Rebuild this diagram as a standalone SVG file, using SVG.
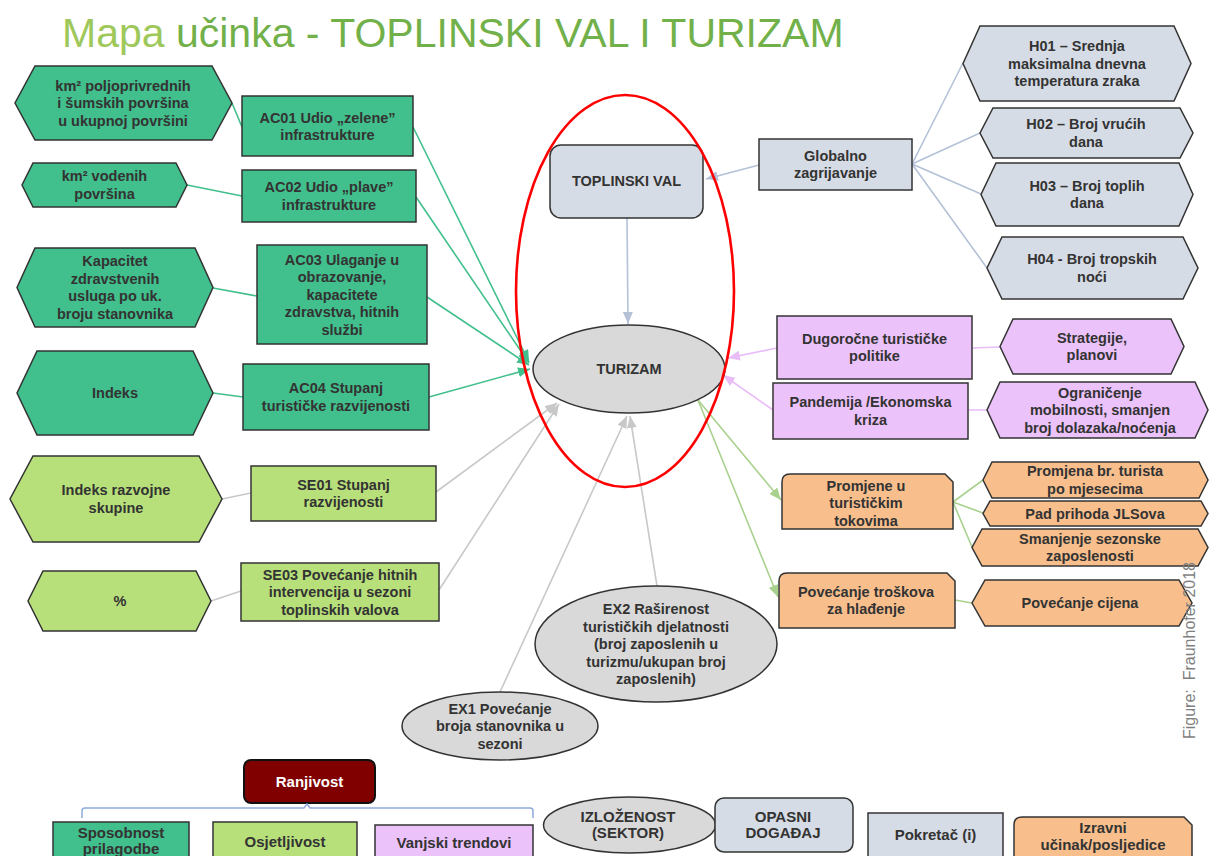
<svg xmlns="http://www.w3.org/2000/svg" width="1209" height="856" viewBox="0 0 1209 856">
<style>
.t{font-family:"Liberation Sans",Arial,sans-serif;font-weight:bold;font-size:14.5px;fill:#333;text-anchor:middle}
.lg-t{font-family:"Liberation Sans",Arial,sans-serif;font-weight:bold;font-size:15px;fill:#333;text-anchor:middle}
.n{stroke:#333;stroke-width:1.5}
.teal{fill:#41BF8C}.lgr{fill:#B8E07A}.gb{fill:#D6DCE5}.vi{fill:#EBC2FA}.or{fill:#F8BF8D}.gr{fill:#D9D9D9}
.c{fill:none;stroke-width:1.6}
.cT{stroke:#41BF8C}.cG{stroke:#C8C8C8}.cB{stroke:#B4C1D6}.cP{stroke:#E8BDF8}.cL{stroke:#A9D18E}
</style>
<defs>
<marker id="aT" viewBox="0 0 12 10" refX="12" refY="5" markerWidth="12" markerHeight="10" markerUnits="userSpaceOnUse" orient="auto"><path d="M0,0 L12,5 L0,10 z" fill="#41BF8C"/></marker>
<marker id="aG" viewBox="0 0 12 10" refX="12" refY="5" markerWidth="12" markerHeight="10" markerUnits="userSpaceOnUse" orient="auto"><path d="M0,0 L12,5 L0,10 z" fill="#C8C8C8"/></marker>
<marker id="aB" viewBox="0 0 12 10" refX="12" refY="5" markerWidth="12" markerHeight="10" markerUnits="userSpaceOnUse" orient="auto"><path d="M0,0 L12,5 L0,10 z" fill="#B4C1D6"/></marker>
<marker id="aP" viewBox="0 0 12 10" refX="12" refY="5" markerWidth="12" markerHeight="10" markerUnits="userSpaceOnUse" orient="auto"><path d="M0,0 L12,5 L0,10 z" fill="#E8BDF8"/></marker>
<marker id="aL" viewBox="0 0 12 10" refX="12" refY="5" markerWidth="12" markerHeight="10" markerUnits="userSpaceOnUse" orient="auto"><path d="M0,0 L12,5 L0,10 z" fill="#A9D18E"/></marker>
</defs>
<rect width="1209" height="856" fill="#fff"/>
<text x="62" y="47" font-family="'Liberation Sans',Arial,sans-serif" font-size="41" fill="#72B04A"><tspan fill="#9EC85A">Mapa</tspan> učinka - TOPLINSKI VAL I TURIZAM</text>

<g id="connectors">
<path class="c cT" d="M413,127 L529,362" marker-end="url(#aT)"/>
<path class="c cT" d="M416,197 L529,363" marker-end="url(#aT)"/>
<path class="c cT" d="M427,297 L529,365" marker-end="url(#aT)"/>
<path class="c cT" d="M429,397 L530,369" marker-end="url(#aT)"/>
<path class="c cT" d="M232,103 L242,127"/>
<path class="c cT" d="M187,185 L242,196"/>
<path class="c cT" d="M213,288 L257,296"/>
<path class="c cT" d="M213,393 L243,397"/>
<path class="c cG" d="M222,499 L251,493"/>
<path class="c cG" d="M211,601 L241,591"/>
<path class="c cG" d="M436,492 L557,403" marker-end="url(#aG)"/>
<path class="c cG" d="M439,590 L559,404" marker-end="url(#aG)"/>
<path class="c cG" d="M500,692 L627,416" marker-end="url(#aG)"/>
<path class="c cG" d="M657,586 L630,416" marker-end="url(#aG)"/>
<path class="c cB" d="M759,165 L706,179" marker-end="url(#aB)"/>
<path class="c cB" d="M627,218 L628,324" marker-end="url(#aB)"/>
<path class="c cB" d="M912,164 L963,63"/>
<path class="c cB" d="M912,164 L980,133"/>
<path class="c cB" d="M912,164 L981,194"/>
<path class="c cB" d="M912,164 L987,268"/>
<path class="c cP" d="M777,348 L728,358" marker-end="url(#aP)"/>
<path class="c cP" d="M773,410 L723,375" marker-end="url(#aP)"/>
<path class="c cP" d="M972,348 L1000,347"/>
<path class="c cP" d="M968,410 L987,410"/>
<path class="c cL" d="M698,400 L781,500" marker-end="url(#aL)"/>
<path class="c cL" d="M698,400 L778,597" marker-end="url(#aL)"/>
<path class="c cL" d="M953,502 L983,480"/>
<path class="c cL" d="M953,502 L983,513"/>
<path class="c cL" d="M953,502 L972,547"/>
<path class="c cL" d="M955,600 L972,603"/>
</g>

<g id="hex-km2-polj"><polygon class="n teal" points="35,66 212,66 232,103 212,140 35,140 15,103"/><text class="t"><tspan x="123" y="90.5">km² poljoprivrednih</tspan><tspan x="123" y="108">i šumskih površina</tspan><tspan x="123" y="125.5">u ukupnoj površini</tspan></text></g>
<g id="ac01"><rect class="n teal" x="242" y="96" width="171" height="60"/><text class="t"><tspan x="327.5" y="122.5">AC01 Udio „zelene”</tspan><tspan x="327.5" y="140">infrastrukture</tspan></text></g>
<g id="hex-km2-vod"><polygon class="n teal" points="33,163 176,163 187,185 176,207 33,207 22,185"/><text class="t"><tspan x="104.5" y="181">km² vodenih</tspan><tspan x="104.5" y="198.5">površina</tspan></text></g>
<g id="ac02"><rect class="n teal" x="242" y="170" width="174" height="52"/><text class="t"><tspan x="329" y="192">AC02 Udio „plave”</tspan><tspan x="329" y="209.5">infrastrukture</tspan></text></g>
<g id="hex-kapacitet"><polygon class="n teal" points="35,248 195,248 213,287.5 195,327 35,327 17,287.5"/><text class="t"><tspan x="115" y="266">Kapacitet</tspan><tspan x="115" y="283.5">zdravstvenih</tspan><tspan x="115" y="301">usluga po uk.</tspan><tspan x="115" y="318.5">broju stanovnika</tspan></text></g>
<g id="ac03"><rect class="n teal" x="257" y="245" width="170" height="99"/><text class="t"><tspan x="342" y="264.5">AC03 Ulaganje u</tspan><tspan x="342" y="282">obrazovanje,</tspan><tspan x="342" y="299.5">kapacitete</tspan><tspan x="342" y="317">zdravstva, hitnih</tspan><tspan x="342" y="334.5">službi</tspan></text></g>
<g id="hex-indeks"><polygon class="n teal" points="37,351 193,351 213,393 193,435 37,435 17,393"/><text class="t" x="115" y="398">Indeks</text></g>
<g id="ac04"><rect class="n teal" x="243" y="364" width="186" height="66"/><text class="t"><tspan x="336" y="393">AC04 Stupanj</tspan><tspan x="336" y="410.5">turističke razvijenosti</tspan></text></g>
<g id="hex-indeks-razv"><polygon class="n lgr" points="33,456 199,456 222,499 199,542 33,542 10,499"/><text class="t"><tspan x="116" y="495">Indeks razvojne</tspan><tspan x="116" y="512.5">skupine</tspan></text></g>
<g id="se01"><rect class="n lgr" x="251" y="466" width="185" height="55"/><text class="t"><tspan x="343.5" y="489.5">SE01 Stupanj</tspan><tspan x="343.5" y="507">razvijenosti</tspan></text></g>
<g id="hex-pct"><polygon class="n lgr" points="43,571 196,571 211,601 196,631 43,631 28,601"/><text class="t" x="120" y="606">%</text></g>
<g id="se03"><rect class="n lgr" x="241" y="563" width="198" height="58"/><text class="t"><tspan x="340" y="579.5">SE03 Povećanje hitnih</tspan><tspan x="340" y="597">intervencija u sezoni</tspan><tspan x="340" y="614.5">toplinskih valova</tspan></text></g>

<g id="toplinski-val"><rect class="n gb" x="550" y="145" width="153" height="73" rx="11"/><text class="t" x="626.5" y="186" font-size="13">TOPLINSKI  VAL</text></g>
<g id="turizam"><ellipse class="n gr" cx="629" cy="369" rx="96" ry="44" stroke-width="1.2"/><text class="t" x="629" y="374" font-size="13.5">TURIZAM</text></g>
<g id="globalno"><rect class="n gb" x="759" y="139" width="153" height="51"/><text class="t"><tspan x="835.5" y="160.5">Globalno</tspan><tspan x="835.5" y="178">zagrijavanje</tspan></text></g>
<g id="h01"><polygon class="n gb" points="980,26 1174,26 1191,63.5 1174,101 980,101 963,63.5"/><text class="t"><tspan x="1077" y="51">H01 – Srednja</tspan><tspan x="1077" y="68.5">maksimalna dnevna</tspan><tspan x="1077" y="86">temperatura zraka</tspan></text></g>
<g id="h02"><polygon class="n gb" points="993,108 1180,108 1193,133 1180,158 993,158 980,133"/><text class="t"><tspan x="1086" y="129">H02 –  Broj vrućih</tspan><tspan x="1086" y="146.5">dana</tspan></text></g>
<g id="h03"><polygon class="n gb" points="996,163 1179,163 1193,194.5 1179,226 996,226 981,194.5"/><text class="t"><tspan x="1087" y="190.5">H03 – Broj toplih</tspan><tspan x="1087" y="208">dana</tspan></text></g>
<g id="h04"><polygon class="n gb" points="1002,237 1183,237 1198,268 1183,299 1002,299 987,268"/><text class="t"><tspan x="1092" y="264">H04 - Broj tropskih</tspan><tspan x="1092" y="281.5">noći</tspan></text></g>

<g id="dugorocne"><rect class="n vi" x="777" y="316" width="195" height="63"/><text class="t"><tspan x="874.5" y="343.5">Dugoročne turističke</tspan><tspan x="874.5" y="361">politike</tspan></text></g>
<g id="pandemija"><rect class="n vi" x="773" y="383" width="195" height="56"/><text class="t"><tspan x="870.5" y="407">Pandemija /Ekonomska</tspan><tspan x="870.5" y="424.5">kriza</tspan></text></g>
<g id="strategije"><polygon class="n vi" points="1013,319 1171,319 1184,346.5 1171,374 1013,374 1000,346.5"/><text class="t"><tspan x="1092" y="342.5">Strategije,</tspan><tspan x="1092" y="360">planovi</tspan></text></g>
<g id="ogranicenje"><polygon class="n vi" points="1000,382 1195,382 1208,410 1195,438 1000,438 987,410"/><text class="t"><tspan x="1100" y="397.5">Ograničenje</tspan><tspan x="1100" y="415">mobilnosti, smanjen</tspan><tspan x="1100" y="432.5">broj dolazaka/noćenja</tspan></text></g>

<g id="promjene"><path class="n or" d="M782,529 V482 Q782,474 790,474 H945 L953,482 V529 Z"/><text class="t"><tspan x="866" y="490.5">Promjene u</tspan><tspan x="866" y="508">turističkim</tspan><tspan x="866" y="525.5">tokovima</tspan></text></g>
<g id="povecanje-troskova"><path class="n or" d="M779,628 V581 Q779,573 787,573 H947 L955,581 V628 Z"/><text class="t"><tspan x="866" y="596.5">Povećanje troškova</tspan><tspan x="866" y="614">za hlađenje</tspan></text></g>
<g id="promjena-br"><polygon class="n or" points="992,462 1199,462 1208,480 1199,498 992,498 983,480"/><text class="t"><tspan x="1095" y="476">Promjena br. turista</tspan><tspan x="1095" y="493.5">po mjesecima</tspan></text></g>
<g id="pad-prihoda"><polygon class="n or" points="990,501 1201,501 1208,513.5 1201,526 990,526 983,513.5"/><text class="t" x="1095" y="518.5">Pad prihoda  JLSova</text></g>
<g id="smanjenje"><polygon class="n or" points="982,529 1198,529 1208,547.5 1198,566 982,566 972,547.5"/><text class="t"><tspan x="1090" y="543.5">Smanjenje sezonske</tspan><tspan x="1090" y="561">zaposlenosti</tspan></text></g>
<g id="povecanje-cijena"><polygon class="n or" points="985,580 1179,580 1192,603 1179,626 985,626 972,603"/><text class="t" x="1080" y="608">Povećanje cijena</text></g>

<g id="ex2"><ellipse class="n gr" cx="656" cy="644" rx="121" ry="58" stroke-width="1.2"/><text class="t"><tspan x="656" y="614">EX2 Raširenost</tspan><tspan x="656" y="631.5">turističkih djelatnosti</tspan><tspan x="656" y="649">(broj zaposlenih u</tspan><tspan x="656" y="666.5">turizmu/ukupan broj</tspan><tspan x="656" y="684">zaposlenih)</tspan></text></g>
<g id="ex1"><ellipse class="n gr" cx="500" cy="726" rx="98" ry="34" stroke-width="1.2"/><text class="t"><tspan x="500" y="713.5">EX1 Povećanje</tspan><tspan x="500" y="731">broja stanovnika u</tspan><tspan x="500" y="748.5">sezoni</tspan></text></g>

<ellipse cx="625" cy="291" rx="109" ry="196" fill="none" stroke="#FF0000" stroke-width="2.6"/>

<text transform="translate(1195,739) rotate(-90)" font-family="'Liberation Sans',Arial,sans-serif" font-size="16" fill="#7F7F7F">Figure:&#160; Fraunhofer 2018</text>

<g id="legend">
<g id="ranjivost"><rect x="244" y="760" width="131" height="43" rx="7" fill="#800000" stroke="#111" stroke-width="2"/><text class="lg-t" x="309.5" y="787" style="fill:#fff">Ranjivost</text></g>
<path d="M82,818 V811 Q82,808 85,808 H304 L307,804 L310,808 H530 Q533,808 533,811 V818" fill="none" stroke="#8FAADC" stroke-width="1.5"/>
<g id="sposobnost"><rect class="n teal" x="53" y="822" width="136" height="50"/><text class="lg-t"><tspan x="121" y="838">Sposobnost</tspan><tspan x="121" y="854">prilagodbe</tspan></text></g>
<g id="osjetljivost"><rect class="n lgr" x="213" y="822" width="144" height="50"/><text class="lg-t" x="285" y="847">Osjetljivost</text></g>
<g id="vanjski"><rect class="n vi" x="375" y="825" width="158" height="50"/><text class="lg-t" x="454" y="848">Vanjski trendovi</text></g>
<g id="izlozenost"><ellipse class="n gr" cx="629.5" cy="825" rx="86" ry="28" stroke-width="1.2"/><text class="lg-t"><tspan x="628" y="822">IZLOŽENOST</tspan><tspan x="628" y="838">(SEKTOR)</tspan></text></g>
<g id="opasni"><rect class="n gb" x="715" y="798" width="138" height="54" rx="9"/><text class="lg-t"><tspan x="783" y="822">OPASNI</tspan><tspan x="783" y="838">DOGAĐAJ</tspan></text></g>
<g id="pokretac"><rect class="n gb" x="868" y="813" width="135" height="50"/><text class="lg-t" x="935.5" y="840">Pokretač (i)</text></g>
<g id="izravni"><path class="n or" d="M1014,862 V825 Q1014,817 1022,817 H1184 L1192,825 V862 Z"/><text class="lg-t"><tspan x="1103" y="833">Izravni</tspan><tspan x="1103" y="850">učinak/posljedice</tspan></text></g>
</g>
</svg>
